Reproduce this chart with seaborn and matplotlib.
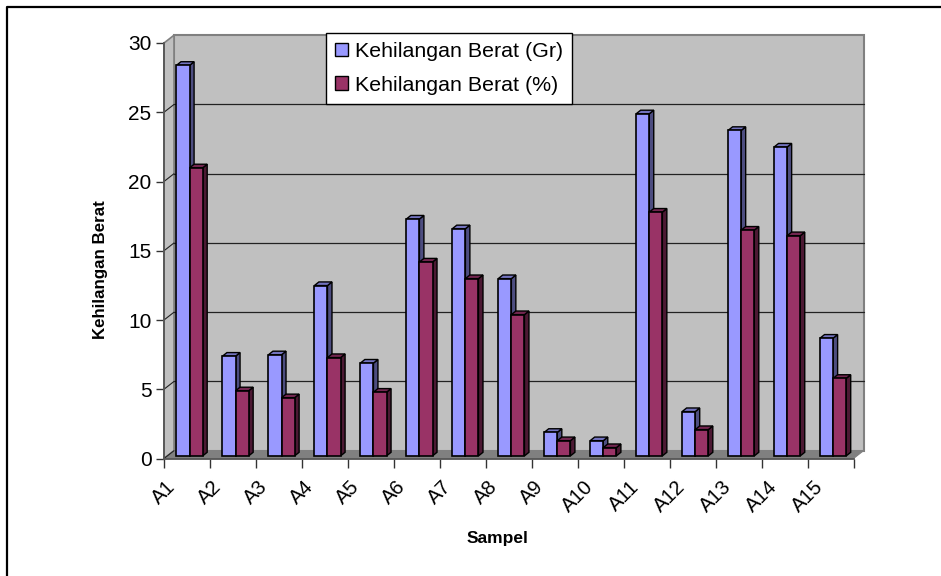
import pandas as pd
import seaborn as sns
import matplotlib
matplotlib.use("Agg")
import matplotlib.pyplot as plt
from matplotlib.lines import Line2D
from matplotlib.patches import Patch, Polygon
from matplotlib.transforms import Affine2D, IdentityTransform

sampel = ["A1", "A2", "A3", "A4", "A5", "A6", "A7", "A8", "A9", "A10", "A11", "A12", "A13", "A14", "A15"]
berat_gr = [28.2, 7.2, 7.3, 12.3, 6.7, 17.1, 16.4, 12.8, 1.7, 1.1, 24.7, 3.2, 23.5, 22.3, 8.5]
berat_persen = [20.8, 4.7, 4.2, 7.1, 4.6, 14.0, 12.8, 10.2, 1.1, 0.6, 17.6, 1.9, 16.3, 15.9, 5.6]
seri = ["Kehilangan Berat (Gr)", "Kehilangan Berat (%)"]
y_ticks = [0, 5, 10, 15, 20, 25, 30]

warna = ["#9999ff", "#993366"]
warna_sisi = ["#4d4d80", "#4c1933"]
warna_atas = ["#7373bf", "#732650"]

sns.set_style("white")
plt.rcParams["font.family"] = ["Liberation Sans", "DejaVu Sans"]
plt.rcParams["text.color"] = "black"

df = pd.DataFrame({"Sampel": sampel, seri[0]: berat_gr, seri[1]: berat_persen})
df = df.melt(id_vars="Sampel", var_name="Seri", value_name="Nilai")

W, H = 941, 576
fig = plt.figure(figsize=(W / 100, H / 100), dpi=100)
ax = fig.add_axes([164 / W, 1 - 458.5 / H, 689.5 / W, 415.5 / H])
ax.patch.set_visible(False)

sns.barplot(data=df, x="Sampel", y="Nilai", hue="Seri", hue_order=seri, palette=warna,
            width=0.57, gap=0, saturation=1, legend=False, ax=ax, zorder=4)
ax.set_xlim(-0.5, 14.5)
ax.set_ylim(0, 30)
fig.canvas.draw()

# depth of the fake 3d box, in pixels
DX, DY = 10, 7.8
BAR_DX, BAR_DY = 4.5, 3.6
SHIFT_X, SHIFT_Y = 2.6, 2.6


def poly(pts, **kw):
    p = Polygon(pts, closed=True, transform=IdentityTransform(), clip_on=False, **kw)
    ax.add_artist(p)
    return p


x0, y0 = ax.transData.transform((-0.5, 0))
x1, y1 = ax.transData.transform((14.5, 30))

# back wall, left wall, floor
poly([(x0 + DX, y0 + DY), (x1 + DX, y0 + DY), (x1 + DX, y1 + DY), (x0 + DX, y1 + DY)],
     facecolor="#c0c0c0", edgecolor="#808080", linewidth=1.5, zorder=0.5)
poly([(x0, y0), (x0 + DX, y0 + DY), (x0 + DX, y1 + DY), (x0, y1)],
     facecolor="#c0c0c0", edgecolor="#808080", linewidth=1.2, zorder=0.6)
poly([(x0, y0), (x1, y0), (x1 + DX, y0 + DY), (x0 + DX, y0 + DY)],
     facecolor="#808080", edgecolor="#808080", linewidth=0.8, zorder=0.7)

# gridlines on the wall
for t in y_ticks:
    _, yt = ax.transData.transform((0, t))
    if 0 < t < 30:
        ax.add_artist(Line2D([x0 + DX, x1 + DX], [yt + DY, yt + DY], color="#222222", lw=0.9,
                             transform=IdentityTransform(), zorder=1, clip_on=False))
    if t < 30:
        ax.add_artist(Line2D([x0, x0 + DX], [yt, yt + DY], color="#222222", lw=0.8,
                             transform=IdentityTransform(), zorder=1, clip_on=False))

# bars: shift the fronts and add a side and a top
geser = Affine2D().translate(SHIFT_X, SHIFT_Y)
for s, cont in enumerate(ax.containers):
    for bar in cont:
        bx, by = bar.get_x(), bar.get_y()
        (a, b) = ax.transData.transform((bx, by)) + (SHIFT_X, SHIFT_Y)
        (c, d) = ax.transData.transform((bx + bar.get_width(), by + bar.get_height())) + (SHIFT_X, SHIFT_Y)
        z = 3 + 2 * s
        poly([(c, b), (c + BAR_DX, b + BAR_DY), (c + BAR_DX, d + BAR_DY), (c, d)],
             facecolor=warna_sisi[s], edgecolor="black", linewidth=1.0, zorder=z)
        poly([(a, d), (c, d), (c + BAR_DX, d + BAR_DY), (a + BAR_DX, d + BAR_DY)],
             facecolor=warna_atas[s], edgecolor="black", linewidth=1.0, zorder=z)
        bar.set_transform(ax.transData + geser)
        bar.set_edgecolor("black")
        bar.set_linewidth(1.2)
        bar.set_clip_on(False)
        bar.set_zorder(z + 1)

for name in ["top", "right"]:
    ax.spines[name].set_visible(False)
for name in ["left", "bottom"]:
    ax.spines[name].set_color("#555555")
    ax.spines[name].set_linewidth(1.3)
    ax.spines[name].set_zorder(2)

ax.set_yticks(y_ticks)
ax.tick_params(axis="y", length=6, width=1, color="#333333", labelcolor="black", labelsize=15, pad=3, left=True)
ax.set_xticks([i - 0.5 for i in range(16)])
ax.set_xticklabels(sampel + [""], rotation=45, ha="center", rotation_mode="default")
ax.tick_params(axis="x", length=6.5, width=1, color="#333333", labelcolor="black", labelsize=14.5, pad=7, bottom=True)

ax.set_xlabel("")
ax.set_ylabel("")
fig.text(497.5 / W, 1 - 538 / H, "Sampel", fontsize=12.5, fontweight="bold", ha="center", va="center")
fig.text(101 / W, 1 - 270 / H, "Kehilangan Berat", fontsize=12.2, fontweight="bold",
         ha="center", va="center", rotation=90)

handles = [Patch(facecolor=warna[i], edgecolor="black", linewidth=1.0, label=seri[i]) for i in range(2)]
leg = fig.legend(handles=handles, loc="upper left", bbox_to_anchor=(326 / W, 1 - 33 / H),
                 bbox_transform=fig.transFigure, fontsize=15.4, frameon=True, fancybox=False,
                 framealpha=1, edgecolor="black", borderpad=0.42, labelspacing=0.68,
                 handlelength=0.6, handleheight=0.6, handletextpad=0.35, borderaxespad=0)
leg.get_frame().set_linewidth(1.0)
leg.set_zorder(20)

# outer chart border, left and top only reach the picture
fig.add_artist(Line2D([6.5 / W, 6.5 / W, 1], [0, 1 - 7 / H, 1 - 7 / H], color="black", lw=1.6))

fig.savefig("out.png", dpi=100, facecolor="white")
